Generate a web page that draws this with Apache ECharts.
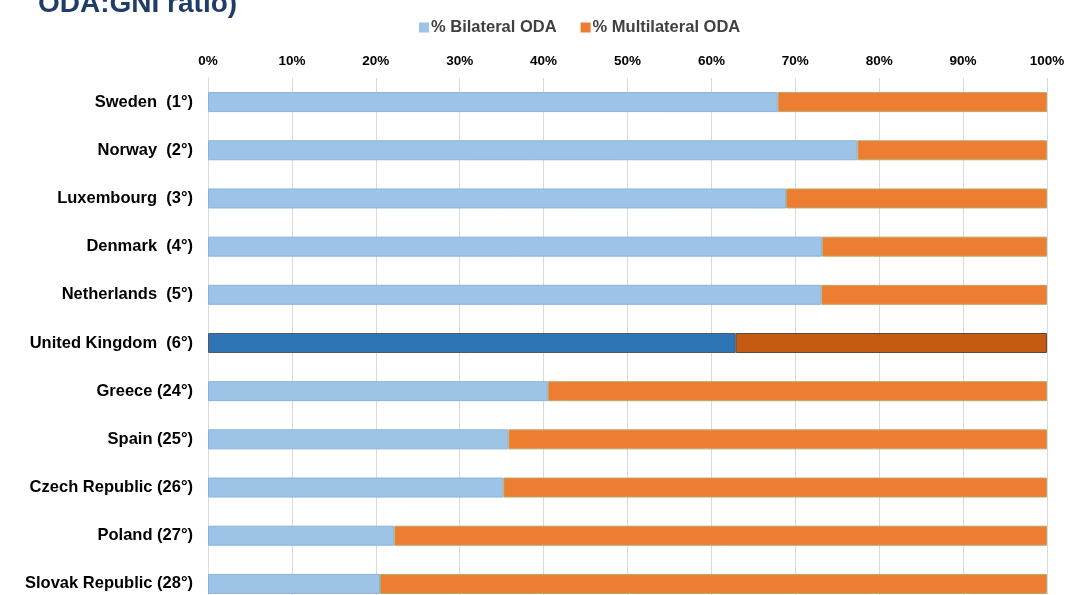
<!DOCTYPE html>
<html>
<head>
<meta charset="utf-8">
<script src="https://cdn.jsdelivr.net/npm/echarts@6/dist/echarts.min.js"></script>
<style>
  html, body { margin: 0; padding: 0; background: #fff; }
  #chart { width: 1066px; height: 595px; }
</style>
</head>
<body>
<div id="chart"></div>
<script>
var countries = ["Sweden  (1°)", "Norway  (2°)", "Luxembourg  (3°)", "Denmark  (4°)", "Netherlands  (5°)",
    "United Kingdom  (6°)", "Greece (24°)", "Spain (25°)", "Czech Republic (26°)", "Poland (27°)", "Slovak Republic (28°)"];
var bilateral = [67.9, 77.4, 68.9, 73.2, 73.1, 62.9, 40.5, 35.8, 35.2, 22.2, 20.5];
var multilateral = bilateral.map(function (v) { return +(100 - v).toFixed(1); });
var highlight = "United Kingdom  (6°)";

var chartDom = document.getElementById("chart");
var myChart = echarts.init(chartDom);

// UK row gets the darker colours
function seriesData(values, normal, strong, border, strongBorder) {
    return values.map(function (v, i) {
        var hi = countries[i] === highlight;
        return {
            value: v,
            itemStyle: {
                color: hi ? strong : normal,
                borderColor: hi ? strongBorder : border,
                borderWidth: 1
            }
        };
    });
}

var option = {
    animation: false,
    textStyle: { fontFamily: "Liberation Sans, Arial, sans-serif" },
    title: {
        text: "ODA:GNI ratio)",
        left: 33,
        top: -15,
        textStyle: { color: "#1f3d66", fontSize: 28, fontWeight: "bold" }
    },
    legend: {
        top: 14,
        left: 414,
        itemWidth: 10,
        itemHeight: 10,
        itemGap: 24,
        icon: "rect",
        textStyle: { fontSize: 16.5, color: "#404040", fontWeight: "bold", padding: [0, 0, 0, -3] },
        data: ["% Bilateral ODA", "% Multilateral ODA"]
    },
    grid: {
        left: 208,
        right: 19,
        top: 78,
        height: 530,
        outerBoundsMode: "none"
    },
    xAxis: {
        type: "value",
        position: "top",
        min: 0,
        max: 100,
        interval: 10,
        axisLine: { show: false },
        axisTick: { show: false },
        axisLabel: {
            formatter: "{value}%",
            color: "#000",
            fontWeight: "bold",
            fontSize: 13.5,
            margin: 10
        },
        splitLine: { lineStyle: { color: "#d9d9d9", width: 1 } }
    },
    yAxis: {
        type: "category",
        inverse: true,
        data: countries,
        axisLine: { lineStyle: { color: "#d9d9d9" } },
        axisTick: { show: false },
        axisLabel: {
            color: "#000",
            fontWeight: "bold",
            fontSize: 16.5,
            margin: 15
        }
    },
    series: [{
        name: "% Bilateral ODA",
        type: "bar",
        stack: "total",
        barWidth: 20,
        itemStyle: { color: "#9dc3e6", borderColor: "#8ab3dc" },
        data: seriesData(bilateral, "#9dc3e6", "#2e75b6", "#8ab3dc", "#505a66")
    }, {
        name: "% Multilateral ODA",
        type: "bar",
        stack: "total",
        barWidth: 20,
        itemStyle: { color: "#ed7d31", borderColor: "#9aa56a" },
        data: seriesData(multilateral, "#ed7d31", "#c55a11", "#b9a96a", "#5a4a3a")
    }]
};
myChart.setOption(option);
</script>
</body>
</html>
